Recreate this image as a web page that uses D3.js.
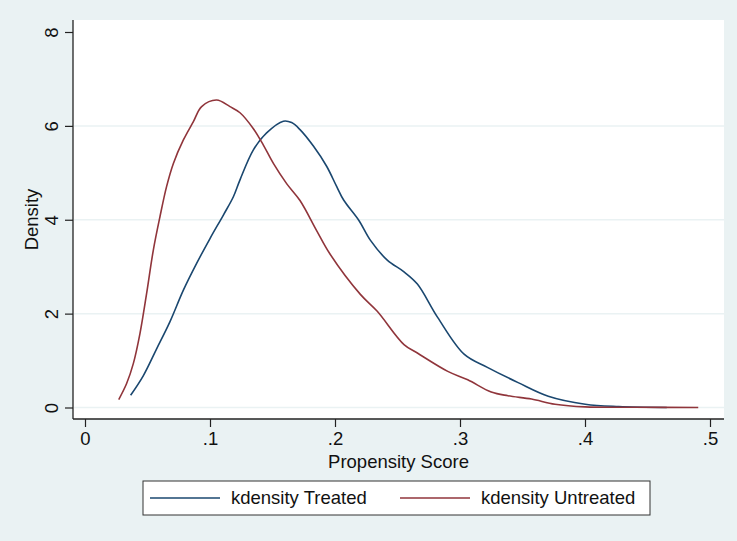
<!DOCTYPE html>
<html>
<head>
<meta charset="utf-8">
<script src="https://cdn.jsdelivr.net/npm/d3@7"></script>
<style>
  body { margin: 0; background: #eaf2f3; }
  svg { display: block; font-family: "Liberation Sans", Arial, sans-serif; }
</style>
</head>
<body>
<svg id="chart"></svg>
<script>
// propensity score values (x) and kernel density (y)
const treatedX = [0.0365, 0.0467, 0.0573, 0.068, 0.0787, 0.0893, 0.1, 0.1107, 0.1187, 0.124, 0.1347,
  0.1453, 0.1587, 0.1653, 0.172, 0.1827, 0.1933, 0.2013, 0.2069, 0.219, 0.2284, 0.2418, 0.2552,
  0.2659, 0.2821, 0.3035, 0.3223, 0.3465, 0.3706, 0.4002, 0.427, 0.4654];
const treatedY = [0.26, 0.68, 1.25, 1.83, 2.50, 3.07, 3.60, 4.10, 4.49, 4.85, 5.49,
  5.85, 6.10, 6.07, 5.92, 5.57, 5.14, 4.71, 4.42, 3.99, 3.56, 3.14, 2.89,
  2.63, 1.92, 1.13, 0.85, 0.53, 0.24, 0.07, 0.02, 0.0];

const untreatedX = [0.027, 0.0333, 0.0387, 0.044, 0.0493, 0.0547, 0.06, 0.0653, 0.0707, 0.0787, 0.0867,
  0.0933, 0.1053, 0.116, 0.124, 0.1347, 0.1427, 0.1507, 0.1613, 0.172, 0.1853, 0.196, 0.2203, 0.2338,
  0.2552, 0.2659, 0.2902, 0.3062, 0.325, 0.3384, 0.3572, 0.376, 0.4002, 0.44, 0.4906];
const untreatedY = [0.17, 0.51, 0.94, 1.58, 2.43, 3.36, 4.07, 4.71, 5.20, 5.70, 6.09,
  6.41, 6.55, 6.41, 6.28, 5.94, 5.59, 5.20, 4.77, 4.41, 3.77, 3.27, 2.41, 2.05,
  1.34, 1.16, 0.77, 0.59, 0.33, 0.25, 0.18, 0.07, 0.013, 0.005, 0.0];

const xTicks = [0, 0.1, 0.2, 0.3, 0.4, 0.5];
const xTickLabels = ["0", ".1", ".2", ".3", ".4", ".5"];
const yTicks = [0, 2, 4, 6, 8];
const seriesNames = ["kdensity Treated", "kdensity Untreated"];
const seriesColors = ["#1a476f", "#90353b"];

const width = 737, height = 541;
const plot = { left: 73, right: 724, top: 20, bottom: 419 };
const fontSize = 18.5;

const svg = d3.select("#chart").attr("width", width).attr("height", height);

svg.append("rect").attr("width", width).attr("height", height).attr("fill", "#eaf2f3");
svg.append("rect")
  .attr("x", plot.left).attr("y", plot.top)
  .attr("width", plot.right - plot.left).attr("height", plot.bottom - plot.top)
  .attr("fill", "#fff");

const x = d3.scaleLinear().domain([0, 0.5]).range([85, 710]);
const y = d3.scaleLinear().domain([0, 8]).range([407.5, 32]);

// gridlines
svg.append("g").selectAll("line")
  .data(yTicks.filter(d => d < 8))
  .join("line")
    .attr("x1", plot.left + 1).attr("x2", plot.right)
    .attr("y1", d => y(d)).attr("y2", d => y(d))
    .attr("stroke", "#eaf2f3").attr("stroke-width", 1.5);

// curves
const line = d3.line().x(d => x(d[0])).y(d => y(d[1])).curve(d3.curveCatmullRom.alpha(0.5));
const series = [d3.zip(treatedX, treatedY), d3.zip(untreatedX, untreatedY)];
svg.append("g").selectAll("path")
  .data(series)
  .join("path")
    .attr("d", line)
    .attr("fill", "none")
    .attr("stroke", (d, i) => seriesColors[i])
    .attr("stroke-width", 1.6);

// y axis
const yAxis = d3.axisLeft(y).tickValues(yTicks).tickSize(8);
const yAxisG = svg.append("g").attr("transform", `translate(${plot.left},0)`).call(yAxis);
yAxisG.select(".domain").attr("d", `M0,${plot.top}V${plot.bottom}`).attr("stroke", "#222").attr("stroke-width", 1.3);
yAxisG.selectAll(".tick line").attr("stroke", "#222").attr("stroke-width", 1.2);
yAxisG.selectAll(".tick text")
  .attr("font-size", fontSize).attr("fill", "#111")
  .attr("text-anchor", "middle")
  .attr("x", 0).attr("dy", 0)
  .attr("transform", "translate(-15,0) rotate(-90)");

// x axis
const xAxis = d3.axisBottom(x).tickValues(xTicks).tickFormat((d, i) => xTickLabels[i]).tickSize(8).tickPadding(5);
const xAxisG = svg.append("g").attr("transform", `translate(0,${plot.bottom})`).call(xAxis);
xAxisG.select(".domain").attr("d", `M${plot.left},0H${plot.right}`).attr("stroke", "#222").attr("stroke-width", 1.3);
xAxisG.selectAll(".tick line").attr("stroke", "#222").attr("stroke-width", 1.2);
xAxisG.selectAll(".tick text").attr("font-size", fontSize).attr("fill", "#111");

// axis titles
svg.append("text")
  .attr("x", (plot.left + plot.right) / 2).attr("y", 468)
  .attr("text-anchor", "middle").attr("font-size", fontSize).attr("fill", "#111")
  .text("Propensity Score");
svg.append("text")
  .attr("transform", `translate(38,${(plot.top + plot.bottom) / 2}) rotate(-90)`)
  .attr("text-anchor", "middle").attr("font-size", fontSize).attr("fill", "#111")
  .text("Density");

// legend
const legend = svg.append("g");
legend.append("rect")
  .attr("x", 143).attr("y", 481).attr("width", 507).attr("height", 34)
  .attr("fill", "#fff").attr("stroke", "#333").attr("stroke-width", 1);
const items = legend.selectAll("g.item")
  .data(seriesNames)
  .join("g")
    .attr("class", "item")
    .attr("transform", (d, i) => `translate(${i === 0 ? 150 : 400},498)`);
items.append("line")
  .attr("x1", 0).attr("x2", 70)
  .attr("stroke", (d, i) => seriesColors[i]).attr("stroke-width", 1.6);
items.append("text")
  .attr("x", 81).attr("dy", "0.35em")
  .attr("font-size", fontSize).attr("fill", "#111")
  .text(d => d);
</script>
</body>
</html>
